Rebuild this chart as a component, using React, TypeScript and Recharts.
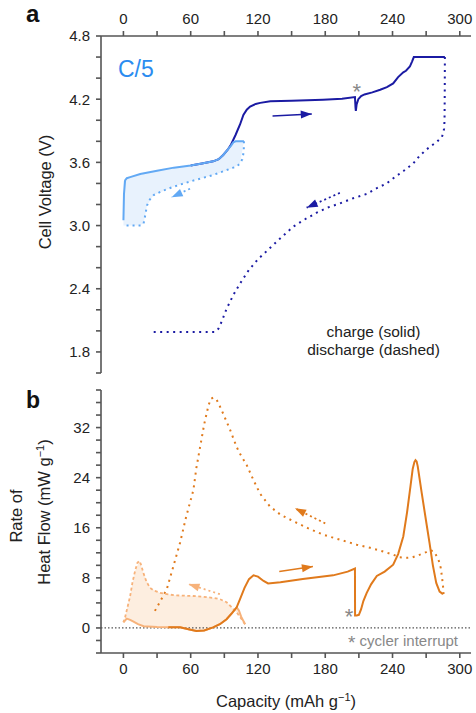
import React from 'react';
import {
  ComposedChart,
  Line,
  Area,
  XAxis,
  YAxis,
  ReferenceLine
} from 'recharts';

// ---- panel a: cell voltage ----
const lightChargeCap = [0, 0.5, 1.5, 3, 6, 15, 30, 45, 60, 70, 80, 85, 89, 93, 96, 98, 100, 104, 107.5];
const lightChargeV = [3.05, 3.3, 3.43, 3.45, 3.46, 3.49, 3.52, 3.55, 3.57, 3.59, 3.61, 3.63, 3.67, 3.72, 3.76, 3.79, 3.8, 3.8, 3.8];

const lightDisCap = [107.5, 107.3, 106, 104, 101, 98, 80, 60, 45, 35, 27, 23, 21, 19.5, 18, 16, 14, 0];
const lightDisV = [3.8, 3.7, 3.63, 3.59, 3.56, 3.55, 3.48, 3.42, 3.37, 3.33, 3.29, 3.24, 3.19, 3.1, 3.02, 3.0, 3.0, 3.0];

const shadeACap = [0, 1.5, 6, 14, 18, 21, 27, 45, 60, 80, 89, 96, 98, 104, 107.5];
const shadeAHi = [3.42, 3.43, 3.46, 3.48, 3.49, 3.5, 3.51, 3.55, 3.57, 3.61, 3.67, 3.76, 3.79, 3.8, 3.8];
const shadeALo = [3.0, 3.0, 3.0, 3.0, 3.02, 3.19, 3.29, 3.37, 3.42, 3.48, 3.51, 3.54, 3.55, 3.59, 3.8];

const navyChargeCap = [60, 70, 80, 85, 89, 93, 96, 100, 104, 107, 110, 113, 118, 122, 131, 150, 178, 195, 206.5, 207, 207.3, 208, 209.5, 212, 215, 222, 229, 235, 240.6, 245, 249.6, 252, 255.5, 257.5, 259, 270, 286.7];
const navyChargeV = [3.57, 3.59, 3.61, 3.63, 3.67, 3.72, 3.77, 3.86, 3.96, 4.05, 4.1, 4.13, 4.155, 4.165, 4.18, 4.185, 4.195, 4.205, 4.22, 4.12, 4.09, 4.15, 4.2, 4.23, 4.245, 4.265, 4.29, 4.315, 4.35, 4.41, 4.455, 4.47, 4.51, 4.56, 4.6, 4.6, 4.6];

const navyDisCap = [286.7, 286.6, 286.4, 286, 285, 284, 280, 275, 270, 264, 258.5, 250, 242, 234.7, 225, 217, 205, 193, 182, 172, 162, 151.5, 140, 130, 120, 112, 104, 98, 92, 87.7, 84.7, 81.7, 60, 40, 27];
const navyDisV = [4.6, 4.3, 4.0, 3.92, 3.87, 3.84, 3.8, 3.76, 3.72, 3.66, 3.59, 3.52, 3.46, 3.4, 3.35, 3.3, 3.26, 3.21, 3.17, 3.12, 3.06, 2.99, 2.88, 2.78, 2.68, 2.58, 2.45, 2.34, 2.21, 2.09, 2.02, 1.99, 1.99, 1.99, 1.99];

const navyChargeArrowCap = [133, 168];
const navyChargeArrowV = [4.04, 4.06];
const navyDisArrowCap = [193, 163.4];
const navyDisArrowV = [3.31, 3.17];
const lightDisArrowCap = [59.4, 43];
const lightDisArrowV = [3.35, 3.27];

// ---- panel b: heat flow ----
const lightOrChargeCap = [0, 3, 6, 9, 13, 18, 30, 40, 50.5, 58, 65, 72, 80, 86, 92, 97, 101, 103, 105, 108.5];
const lightOrChargeQ = [0.9, 1.5, 1.3, 1.0, 0.6, 0.27, 0.15, 0.12, 0.1, -0.2, -0.5, -0.4, 0.1, 0.6, 1.4, 2.4, 3.3, 2.8, 1.8, 0.6];

const lightOrDisCap = [108.5, 105, 101, 96, 92, 86, 80, 70, 62.4, 55, 47.6, 40, 32.7, 27, 23.8, 20.5, 17.8, 15.5, 14.3, 12.5, 10.4, 8, 6, 3.5, 1.5, 0];
const lightOrDisQ = [0.6, 1.5, 2.5, 3.4, 4.1, 4.6, 4.8, 5.0, 5.1, 5.15, 5.2, 5.35, 5.6, 6.0, 6.4, 7.4, 8.8, 10.2, 10.7, 10.4, 9.1, 7.2, 5.1, 3.2, 1.7, 0.9];

const shadeBCap = [0, 1.5, 3, 6, 10.4, 14.3, 17.8, 23.8, 32.7, 47.6, 62.4, 72, 80, 92, 101, 105, 108.5];
const shadeBLo = [0.9, 1.2, 1.5, 1.3, 0.8, 0.5, 0.27, 0.2, 0.15, 0.1, -0.3, -0.4, 0.1, 1.4, 3.3, 1.8, 0.6];
const shadeBHi = [0.9, 1.7, 3.0, 5.1, 9.1, 10.7, 8.8, 6.4, 5.6, 5.2, 5.1, 5.0, 4.8, 4.1, 2.5, 1.5, 0.6];

const orChargeCap = [40, 50.5, 58, 65, 72, 80, 86, 92, 97, 101, 104, 108, 112, 116, 120, 125, 129, 140, 160, 187, 200, 206.5, 206.6, 208, 210, 212, 214, 217, 221, 226, 233, 240.6, 245, 249.6, 253, 256, 258, 259.5, 260.5, 261.5, 262.5, 264, 266, 270, 273, 276, 279, 282, 285];
const orChargeQ = [0.12, 0.1, -0.2, -0.5, -0.4, 0.1, 0.6, 1.4, 2.4, 3.3, 4.6, 6.4, 7.8, 8.4, 8.2, 7.5, 7.1, 7.3, 7.8, 8.4, 9.0, 9.5, 2.0, 2.0, 2.1, 3.0, 4.3, 5.6, 7.0, 8.3, 9.0, 10.1, 11.8, 14.6, 18.5, 22.6, 25.4, 26.5, 26.8, 26.6, 25.8, 24.0, 21.6, 17.0, 13.6, 10.0, 7.2, 5.8, 5.4];

const orDisCap = [285.5, 285, 284, 283, 281, 278, 276, 273, 270, 264.4, 258, 252.6, 246, 240.6, 230, 220, 208, 195, 178, 165, 152, 140, 130.7, 122, 116, 110, 104, 101, 95, 89, 85, 83, 80, 78, 75.8, 72, 68.4, 65, 62.4, 56, 50.5, 44, 38.7, 33, 28];
const orDisQ = [5.4, 6.8, 8.3, 9.6, 10.9, 11.9, 12.3, 12.4, 12.1, 11.7, 11.3, 11.2, 11.3, 11.7, 12.3, 12.8, 13.3, 14.0, 14.9, 15.9, 17.0, 18.1, 19.4, 21.4, 23.6, 26.0, 27.8, 28.9, 31.7, 34.2, 35.8, 36.5, 36.8, 36.6, 35.5, 32.5, 28.9, 25.5, 22.0, 17.8, 13.6, 9.5, 6.2, 4.3, 2.7];

const orChargeArrowCap = [139, 169];
const orChargeArrowQ = [9.0, 9.8];
const orDisArrowCap = [180, 153];
const orDisArrowQ = [16.7, 19.1];
const lightOrDisArrowCap = [86, 58];
const lightOrDisArrowQ = [5.4, 7.0];

// ticks
const capTicks = [0, 30, 60, 90, 120, 150, 180, 210, 240, 270, 300];
const voltTicks = [1.6, 1.8, 2.0, 2.2, 2.4, 2.6, 2.8, 3.0, 3.2, 3.4, 3.6, 3.8, 4.0, 4.2, 4.4, 4.6, 4.8];
const heatTicks = [-4, -2, 0, 2, 4, 6, 8, 10, 12, 14, 16, 18, 20, 22, 24, 26, 28, 30, 32, 34, 36, 38];

const zip = (c: number[], v: number[]) => c.map((x, i) => ({ c: x, v: v[i] }));
const zipRange = (c: number[], lo: number[], hi: number[]) => c.map((x, i) => ({ c: x, r: [lo[i], hi[i]] }));

const NAVY = '#1b1ba3';
const LIGHT_BLUE = '#62a9f4';
const BLUE_FILL = '#e8f2fd';
const ORANGE = '#e07a1c';
const LIGHT_ORANGE = '#f7b27a';
const ORANGE_FILL = '#fdeee0';
const AXIS = '#555';
const FONT = '"Liberation Sans", Arial, sans-serif';

const tickStyle = { fontSize: 15, fill: '#222', fontFamily: FONT };

const arrowHead = (color: string) => (props: any) => {
  const { cx, cy, index, points } = props;
  if (index !== 1 || !points || points.length < 2) return <g key={`ah-${index}`} />;
  const p0 = points[0];
  const ang = Math.atan2(cy - p0.y, cx - p0.x);
  const len = 11;
  const half = 4;
  const bx = cx - len * Math.cos(ang);
  const by = cy - len * Math.sin(ang);
  const nx = -Math.sin(ang) * half;
  const ny = Math.cos(ang) * half;
  const pts = `${cx},${cy} ${bx + nx},${by + ny} ${bx - nx},${by - ny}`;
  return <polygon key={`ah-${index}`} points={pts} fill={color} />;
};

const capFmt = (v: number) => (v % 60 === 0 ? String(v) : '');
const voltFmt = (v: number) => {
  const k = Math.round((v - 1.8) / 0.6 * 1000) / 1000;
  return Number.isInteger(k) && k >= 0 ? v.toFixed(1) : '';
};
const heatFmt = (v: number) => (v >= 0 && v % 8 === 0 ? String(v) : '');

const App: React.FC = () => {
  return (
    <div style={{ position: 'absolute', left: 0, top: 0, width: 476, height: 713, background: '#fff', fontFamily: FONT }}>
      <div style={{ position: 'absolute', left: 0, top: 0 }}>
        <ComposedChart width={476} height={380} margin={{ top: 0, right: 5, bottom: 7, left: 0 }}>
          <XAxis
            dataKey="c"
            type="number"
            orientation="top"
            domain={[-20, 310]}
            ticks={capTicks}
            tickFormatter={capFmt}
            height={36}
            tick={tickStyle}
            tickSize={5}
            tickMargin={7}
            stroke={AXIS}
            strokeWidth={1.6}
            allowDataOverflow
          />
          <YAxis
            type="number"
            domain={[1.6, 4.8]}
            ticks={voltTicks}
            tickFormatter={voltFmt}
            width={101}
            tick={tickStyle}
            tickSize={5}
            tickMargin={6}
            stroke={AXIS}
            strokeWidth={1.6}
            interval={0}
            allowDataOverflow
          />
          <YAxis
            yAxisId="r"
            type="number"
            orientation="right"
            mirror
            domain={[1.6, 4.8]}
            ticks={voltTicks}
            tickFormatter={() => ''}
            width={0}
            tickSize={5}
            stroke={AXIS}
            strokeWidth={1.6}
            interval={0}
            allowDataOverflow
          />
          <Area data={zipRange(shadeACap, shadeALo, shadeAHi)} dataKey="r" type="linear" stroke="none" fill={BLUE_FILL} fillOpacity={1} isAnimationActive={false} />
          <Line data={zip(navyDisCap, navyDisV)} dataKey="v" type="linear" stroke={NAVY} strokeWidth={2} strokeDasharray="2 4.5" dot={false} isAnimationActive={false} />
          <Line data={zip(navyChargeCap, navyChargeV)} dataKey="v" type="linear" stroke={NAVY} strokeWidth={2} dot={false} isAnimationActive={false} />
          <Line data={zip(lightDisCap, lightDisV)} dataKey="v" type="linear" stroke={LIGHT_BLUE} strokeWidth={2} strokeDasharray="2 4" dot={false} isAnimationActive={false} />
          <Line data={zip(lightChargeCap, lightChargeV)} dataKey="v" type="linear" stroke={LIGHT_BLUE} strokeWidth={2} dot={false} isAnimationActive={false} />
          <Line data={zip(navyChargeArrowCap, navyChargeArrowV)} dataKey="v" type="linear" stroke={NAVY} strokeWidth={1.5} dot={arrowHead(NAVY)} isAnimationActive={false} />
          <Line data={zip(navyDisArrowCap, navyDisArrowV)} dataKey="v" type="linear" stroke={NAVY} strokeWidth={1.8} strokeDasharray="2 3" dot={arrowHead(NAVY)} isAnimationActive={false} />
          <Line data={zip(lightDisArrowCap, lightDisArrowV)} dataKey="v" type="linear" stroke={LIGHT_BLUE} strokeWidth={1.8} strokeDasharray="2 3" dot={arrowHead(LIGHT_BLUE)} isAnimationActive={false} />
        </ComposedChart>
      </div>

      <div style={{ position: 'absolute', left: 0, top: 380 }}>
        <ComposedChart width={476} height={333} margin={{ top: 10, right: 5, bottom: 0, left: 0 }}>
          <XAxis
            dataKey="c"
            type="number"
            domain={[-20, 310]}
            ticks={capTicks}
            tickFormatter={capFmt}
            height={60}
            tick={tickStyle}
            tickSize={5}
            tickMargin={5}
            stroke={AXIS}
            strokeWidth={1.6}
            allowDataOverflow
          />
          <YAxis
            type="number"
            domain={[-4, 38]}
            ticks={heatTicks}
            tickFormatter={heatFmt}
            width={101}
            tick={tickStyle}
            tickSize={5}
            tickMargin={6}
            stroke={AXIS}
            strokeWidth={1.6}
            interval={0}
            allowDataOverflow
          />
          <YAxis
            yAxisId="r"
            type="number"
            orientation="right"
            mirror
            domain={[-4, 38]}
            ticks={heatTicks}
            tickFormatter={() => ''}
            width={0}
            tickSize={5}
            stroke={AXIS}
            strokeWidth={1.6}
            interval={0}
            allowDataOverflow
          />
          <ReferenceLine y={0} stroke="#555" strokeWidth={1.2} strokeDasharray="1.5 2" />
          <Area data={zipRange(shadeBCap, shadeBLo, shadeBHi)} dataKey="r" type="linear" stroke="none" fill={ORANGE_FILL} fillOpacity={1} isAnimationActive={false} />
          <Line data={zip(orDisCap, orDisQ)} dataKey="v" type="linear" stroke={ORANGE} strokeWidth={2} strokeDasharray="2 4.5" dot={false} isAnimationActive={false} />
          <Line data={zip(lightOrDisCap, lightOrDisQ)} dataKey="v" type="linear" stroke={LIGHT_ORANGE} strokeWidth={1.8} strokeDasharray="3 2.5" dot={false} isAnimationActive={false} />
          <Line data={zip(lightOrChargeCap, lightOrChargeQ)} dataKey="v" type="linear" stroke={LIGHT_ORANGE} strokeWidth={2} dot={false} isAnimationActive={false} />
          <Line data={zip(orChargeCap, orChargeQ)} dataKey="v" type="linear" stroke={ORANGE} strokeWidth={2} dot={false} isAnimationActive={false} />
          <Line data={zip(orChargeArrowCap, orChargeArrowQ)} dataKey="v" type="linear" stroke={ORANGE} strokeWidth={1.5} dot={arrowHead(ORANGE)} isAnimationActive={false} />
          <Line data={zip(orDisArrowCap, orDisArrowQ)} dataKey="v" type="linear" stroke={ORANGE} strokeWidth={1.8} strokeDasharray="2 3" dot={arrowHead(ORANGE)} isAnimationActive={false} />
          <Line data={zip(lightOrDisArrowCap, lightOrDisArrowQ)} dataKey="v" type="linear" stroke={LIGHT_ORANGE} strokeWidth={1.8} strokeDasharray="2 3" dot={arrowHead(LIGHT_ORANGE)} isAnimationActive={false} />
        </ComposedChart>
      </div>

      <svg width={476} height={713} style={{ position: 'absolute', left: 0, top: 0, pointerEvents: 'none' }} fontFamily={FONT}>
        <text x={26} y={22} fontSize={24} fontWeight="bold" fill="#111">a</text>
        <text x={26} y={408} fontSize={23} fontWeight="bold" fill="#111">b</text>
        <text x={118} y={77} fontSize={23} fill="#2b8cf0">C/5</text>
        <text x={356.7} y={99} fontSize={22} fill="#888" textAnchor="middle">*</text>
        <text x={349} y={624} fontSize={22} fill="#888" textAnchor="middle">*</text>
        <text x={373.5} y={337} fontSize={15.5} fill="#222" textAnchor="middle">charge (solid)</text>
        <text x={373.5} y={355} fontSize={15.5} fill="#222" textAnchor="middle">discharge (dashed)</text>
        <text x={458} y={646} fontSize={15} fill="#888" textAnchor="end">
          <tspan fontSize={19} dy={3}>*</tspan><tspan dy={-3}> cycler interrupt</tspan>
        </text>
        <text transform="translate(51 192) rotate(-90)" fontSize={16.5} fill="#222" textAnchor="middle">Cell Voltage (V)</text>
        <text transform="translate(22 516) rotate(-90)" fontSize={16.5} fill="#222" textAnchor="middle">Rate of</text>
        <text transform="translate(50 512) rotate(-90)" fontSize={16.5} fill="#222" textAnchor="middle">
          Heat Flow (mW g<tspan dy={-6} fontSize={11}>−1</tspan><tspan dy={6}>)</tspan>
        </text>
        <text x={286} y={707} fontSize={16.5} fill="#222" textAnchor="middle">
          Capacity (mAh g<tspan dy={-6} fontSize={11}>−1</tspan><tspan dy={6}>)</tspan>
        </text>
      </svg>
    </div>
  );
};

export default App;
